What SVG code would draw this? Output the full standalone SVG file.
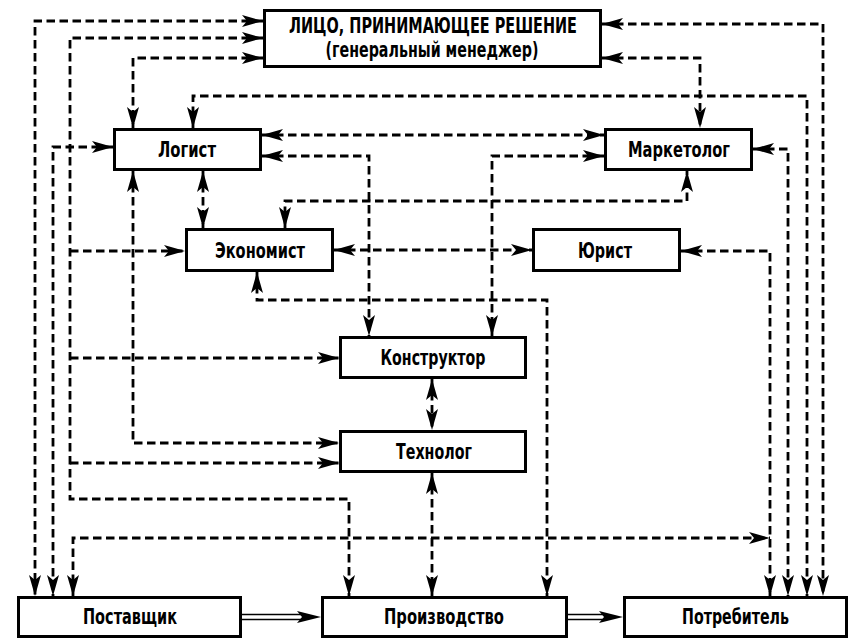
<svg xmlns="http://www.w3.org/2000/svg" width="852" height="639" viewBox="0 0 852 639">
<defs>
<marker id="ah" markerUnits="userSpaceOnUse" viewBox="0 0 21 12" markerWidth="21" markerHeight="12" refX="21" refY="6" orient="auto-start-reverse">
<path d="M0,0 L21,6 L0,12 L5,6 z" fill="#000"/>
</marker>
<style>
rect.box{fill:#fff;stroke:#000;stroke-width:3}
text.t{font-family:"Liberation Sans Narrow","DejaVu Sans Condensed","Liberation Sans",sans-serif;font-weight:bold;font-size:21px;text-anchor:middle;fill:#000}
.c path.d{fill:none;stroke:#000;stroke-width:2.8;stroke-dasharray:8.5 4.5}
.c path.both{marker-start:url(#ah);marker-end:url(#ah)}
.c path.end{marker-end:url(#ah)}
.c line.dbl{stroke:#000;stroke-width:1.6}
</style>
</defs>
<rect width="852" height="639" fill="#fff"/>
<g class="c" id="connectors">
<path class="d both" d="M263,21 H35 V596"/>
<path class="d both" d="M113,147 H53 V596"/>
<path class="d both" d="M263,38 H70 V499 H349 V596"/>
<path class="d end" d="M70,251 H185"/>
<path class="d end" d="M70,358 H339"/>
<path class="d end" d="M70,463 H339"/>
<path class="d both" d="M263,58 H133 V128"/>
<path class="d both" d="M133,171 V443 H339"/>
<path class="d both" d="M193,128 V96 H807 V596"/>
<path class="d both" d="M602,24 H823 V596"/>
<path class="d both" d="M602,58 H700 V128"/>
<path class="d both" d="M753,149 H788 V596"/>
<path class="d both" d="M681,251 H770 V596"/>
<path class="d both" d="M262,135 H604"/>
<path class="d both" d="M262,156 H369 V336"/>
<path class="d both" d="M604,156 H492 V336"/>
<path class="d both" d="M203,171 V228"/>
<path class="d both" d="M285,228 V201 H687 V171"/>
<path class="d both" d="M334,250 H532"/>
<path class="d both" d="M257,272 V300 H547 V596"/>
<path class="d both" d="M432,379 V430"/>
<path class="d both" d="M432,473 V596"/>
<path class="d both" d="M73,596 V538 H770"/>
<line class="dbl" x1="242" y1="614.5" x2="304" y2="614.5"/>
<line class="dbl" x1="242" y1="619.5" x2="304" y2="619.5"/>
<path d="M321,617 L297,611 L302,617 L297,623 Z" fill="#000"/>
<line class="dbl" x1="568" y1="614.5" x2="606" y2="614.5"/>
<line class="dbl" x1="568" y1="619.5" x2="606" y2="619.5"/>
<path d="M623,617 L599,611 L604,617 L599,623 Z" fill="#000"/>
</g>
<g id="lpr">
<rect class="box" x="264.5" y="10.5" width="336" height="56"/>
<text class="t" x="433" y="33" textLength="288" lengthAdjust="spacingAndGlyphs">ЛИЦО, ПРИНИМАЮЩЕЕ РЕШЕНИЕ</text>
<text class="t" x="432" y="57" textLength="213" lengthAdjust="spacingAndGlyphs">(генеральный менеджер)</text>
</g>
<g id="logist">
<rect class="box" x="114.5" y="129.5" width="146" height="40"/>
<text class="t" x="187" y="157" textLength="58" lengthAdjust="spacingAndGlyphs">Логист</text>
</g>
<g id="marketolog">
<rect class="box" x="605.5" y="129.5" width="146" height="40"/>
<text class="t" x="679" y="157" textLength="102" lengthAdjust="spacingAndGlyphs">Маркетолог</text>
</g>
<g id="ekonomist">
<rect class="box" x="186.5" y="229.5" width="146" height="41"/>
<text class="t" x="260" y="257.5" textLength="90" lengthAdjust="spacingAndGlyphs">Экономист</text>
</g>
<g id="yurist">
<rect class="box" x="533.5" y="229.5" width="146" height="41"/>
<text class="t" x="605" y="257.5" textLength="54" lengthAdjust="spacingAndGlyphs">Юрист</text>
</g>
<g id="konstruktor">
<rect class="box" x="340.5" y="337.5" width="185" height="40"/>
<text class="t" x="433" y="365" textLength="105" lengthAdjust="spacingAndGlyphs">Конструктор</text>
</g>
<g id="tekhnolog">
<rect class="box" x="340.5" y="431.5" width="185" height="40"/>
<text class="t" x="434" y="459" textLength="76" lengthAdjust="spacingAndGlyphs">Технолог</text>
</g>
<g id="postavshchik">
<rect class="box" x="18.5" y="597.5" width="222" height="39"/>
<text class="t" x="130" y="624" textLength="94" lengthAdjust="spacingAndGlyphs">Поставщик</text>
</g>
<g id="proizvodstvo">
<rect class="box" x="322.5" y="597.5" width="244" height="39"/>
<text class="t" x="444" y="624" textLength="120" lengthAdjust="spacingAndGlyphs">Производство</text>
</g>
<g id="potrebitel">
<rect class="box" x="624.5" y="597.5" width="222" height="39"/>
<text class="t" x="735.5" y="624" textLength="107" lengthAdjust="spacingAndGlyphs">Потребитель</text>
</g>
</svg>
